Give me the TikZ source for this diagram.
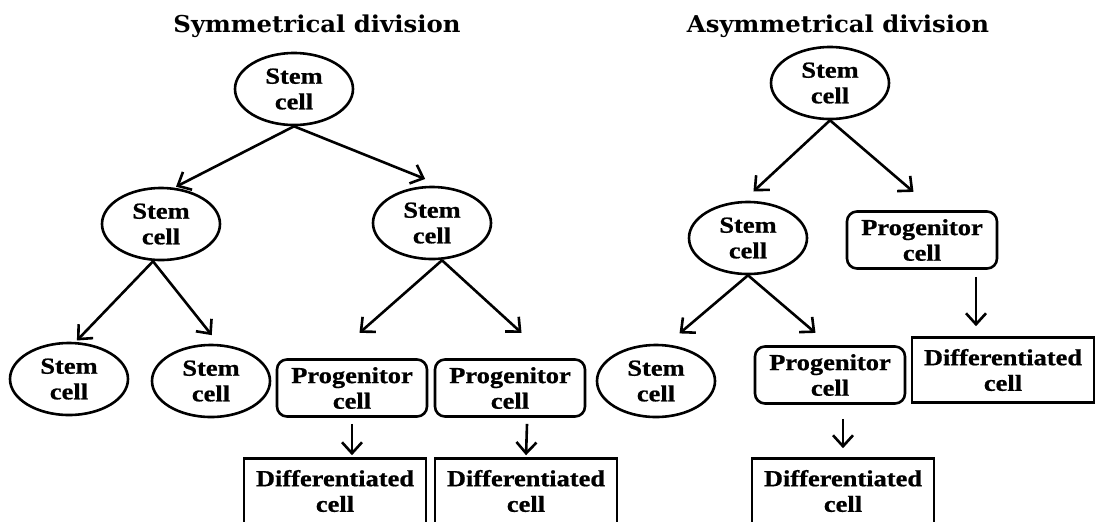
\documentclass[tikz,border=0pt]{standalone}
\usepackage{fontspec}
\newfontfamily\cellfont{Liberation Serif}[FakeStretch=1.15,FakeBold=0.8]
\newfontfamily\headfont{DejaVu Serif}[FakeStretch=1.05]
\usepackage{tikz}
\usetikzlibrary{arrows.meta,shapes.geometric,positioning}

\begin{document}
\begin{tikzpicture}[
                            ->,
                            >={Straight Barb[length=5.5pt,width=10pt]},
                            shorten >=1pt,
                            x=0.5pt, y=-0.5pt,
                            line width=1.3pt
                        ]
                        \tikzstyle{every node}=[font=\cellfont\bfseries\fontsize{11.5}{12.8}\selectfont,align=center]
                        \tikzstyle{stemcell}=[ellipse,draw=black,minimum width=59pt,minimum height=36pt,inner sep=0pt]
                        \tikzstyle{progcell}=[rectangle,rounded corners=5pt,draw=black,minimum width=75pt,minimum height=28.5pt,inner sep=0pt]
                        \tikzstyle{diffcell}=[rectangle,draw=black,minimum width=91pt,minimum height=32.5pt,inner sep=0pt]
                        \tikzstyle{heading}=[font=\headfont\bfseries\fontsize{11.6}{13}\selectfont,anchor=base]

                        \useasboundingbox (0,0) rectangle (1096,521);

                        % symmetrical division
                        \node[heading]  (TL) at (317,32)  {Symmetrical division};
                        \node[stemcell] (S0) at (294,89)  {Stem\\cell};
                        \node[stemcell] (S1) at (161,224) {Stem\\cell};
                        \node[stemcell] (S2) at (432,223) {Stem\\cell};
                        \node[stemcell] (S3) at (69,379)  {Stem\\cell};
                        \node[stemcell] (S4) at (211,381) {Stem\\cell};
                        \node[progcell] (P1) at (352,388) {Progenitor\\cell};
                        \node[progcell] (P2) at (510,388) {Progenitor\\cell};
                        \node[diffcell] (D1) at (335,491) {Differentiated\\cell};
                        \node[diffcell] (D2) at (526,491) {Differentiated\\cell};

                        % asymmetrical division
                        \node[heading]  (TR) at (838,32)  {Asymmetrical division};
                        \node[stemcell] (T0) at (830,83)  {Stem\\cell};
                        \node[stemcell] (A1) at (748,238) {Stem\\cell};
                        \node[progcell] (P3) at (922,240) {Progenitor\\cell};
                        \node[stemcell] (A2) at (656,381) {Stem\\cell};
                        \node[progcell] (P4) at (830,375) {Progenitor\\cell};
                        \node[diffcell] (D3) at (843,491) {Differentiated\\cell};
                        \node[diffcell] (D4) at (1003,370) {Differentiated\\cell};

                        \path
                        (S0.south) edge (S1.70)
                        (S0.south) edge ([shift={(-5,-6)}]S2.north)
                        ([shift={(-8,0)}]S1.south) edge (S3.80)
                        ([shift={(-8,0)}]S1.south) edge ([shift={(2,-7)}]S4.north)
                        ([shift={(10,0)}]S2.south) edge ([shift={(6,-24)}]P1.north)
                        ([shift={(10,0)}]S2.south) edge ([shift={(13,-24)}]P2.north)
                        ([shift={(0,6)}]P1.south) edge (P1.south |- D1.north)
                        ([shift={(17,6)}]P2.south) edge (D2.north)
                        (T0.south) edge ([shift={(4,-8)}]A1.north)
                        (T0.south) edge ([shift={(-7,-17)}]P3.north)
                        (A1.south) edge ([shift={(22,-9)}]A2.north)
                        (A1.south) edge ([shift={(-13,-11)}]P4.north)
                        ([shift={(13,14)}]P4.south) edge ([shift={(0,-7)}]D3.north)
                        ([shift={(54,7)}]P3.south) edge ([shift={(-27,-8)}]D4.north)
                        ;
                    \end{tikzpicture}
\end{document}
